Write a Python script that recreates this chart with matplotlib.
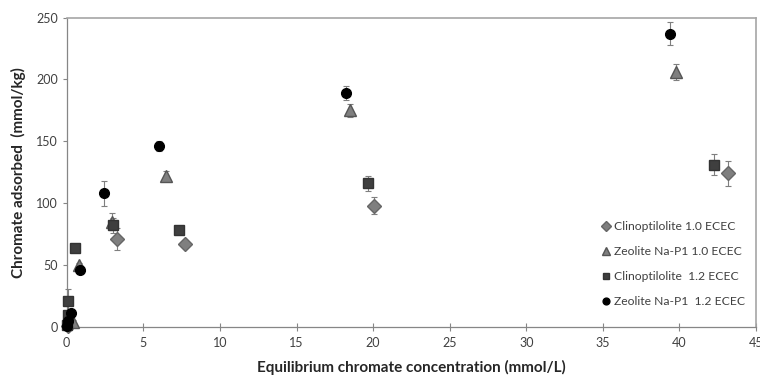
import numpy as np
import matplotlib.pyplot as plt
from matplotlib.lines import Line2D

plt.rcParams['font.family'] = ['Lato', 'DejaVu Sans']

# Clinoptilolite 1.0 ECEC (diamonds)
clino10_x = [0.1, 3.27, 7.7, 20.05, 43.2]
clino10_y = [1, 71, 67, 98, 124]
clino10_err = [0, 9, 2, 7, 10]

# Zeolite Na-P1 1.0 ECEC (triangles)
zeo10_x = [0.39, 0.8, 2.95, 6.5, 18.5, 39.75]
zeo10_y = [4, 50, 85, 122, 175, 206]
zeo10_err = [2, 2, 7, 4, 5, 6.5]

# Clinoptilolite 1.2 ECEC (squares)
clino12_x = [0.05, 0.1, 0.1, 0.54, 3.05, 7.34, 19.67, 42.26]
clino12_y = [2, 10, 21, 64, 82, 78, 116, 131]
clino12_err = [1, 3, 10, 2, 6, 3, 6, 8.5]

# Zeolite Na-P1 1.2 ECEC (circles)
zeo12_x = [0.05, 0.1, 0.28, 0.87, 2.46, 6.0, 18.2, 39.4]
zeo12_y = [1, 5, 11, 46, 108, 146, 189, 237]
zeo12_err = [1, 2, 2, 2, 10, 4, 5.5, 9]

labels = ['Clinoptilolite 1.0 ECEC', 'Zeolite Na-P1 1.0 ECEC',
          'Clinoptilolite  1.2 ECEC', 'Zeolite Na-P1  1.2 ECEC']

fig = plt.figure(figsize=(7.6, 3.79), dpi=100)
ax = fig.add_axes([0.0878, 0.1372, 0.907, 0.8166])

styles = [
    dict(marker='D', ms=7, mfc='#7f7f7f', mec='#666666'),
    dict(marker='^', ms=8, mfc='#7f7f7f', mec='#555555'),
    dict(marker='s', ms=6.5, mfc='#3f3f3f', mec='#333333'),
    dict(marker='o', ms=7, mfc='black', mec='black'),
]
series = [(clino10_x, clino10_y, clino10_err), (zeo10_x, zeo10_y, zeo10_err),
          (clino12_x, clino12_y, clino12_err), (zeo12_x, zeo12_y, zeo12_err)]

handles = []
for (x, y, e), st, lab in zip(series, styles, labels):
    cont = ax.errorbar(x, y, yerr=e, ecolor='#7f7f7f', elinewidth=0.8, capsize=2.5,
                       capthick=0.8, linestyle='none', zorder=3, **st)
    for art in cont.get_children():
        art.set_clip_on(False)
    handles.append(Line2D([], [], linestyle='none', marker=st['marker'],
                          ms=st['ms'] * 0.7, mfc=st['mfc'], mec=st['mec'], label=lab))

ax.set_xlim(0, 45)
ax.set_ylim(0, 250)
ax.set_xticks(np.arange(0, 46, 5))
ax.set_yticks(np.arange(0, 251, 50))
ax.tick_params(axis='x', direction='inout', length=6, width=0.8, color='#868686',
               labelsize=9, labelcolor='#404040', pad=4)
ax.tick_params(axis='y', direction='out', length=3, width=0.8, color='#868686',
               labelsize=9, labelcolor='#404040')
for side in ['left', 'bottom']:
    ax.spines[side].set_color('#868686')
    ax.spines[side].set_linewidth(0.9)
for side in ['top', 'right']:
    ax.spines[side].set_color('#a6a6a6')
    ax.spines[side].set_linewidth(1.2)

ax.set_xlabel('Equilibrium chromate concentration (mmol/L)', fontsize=11, fontweight='bold',
              color='#262626', labelpad=8)
ax.set_ylabel('Chromate adsorbed  (mmol/kg)', fontsize=11, fontweight='bold',
              color='#262626', labelpad=7)

leg = ax.legend(handles=handles, loc='lower right', bbox_to_anchor=(1.0, 0.03),
                frameon=False, fontsize=8.7, handlelength=0.6, handletextpad=0.4,
                labelspacing=1.15)
for t in leg.get_texts():
    t.set_color('#404040')

fig.savefig('out.png', dpi=100)
